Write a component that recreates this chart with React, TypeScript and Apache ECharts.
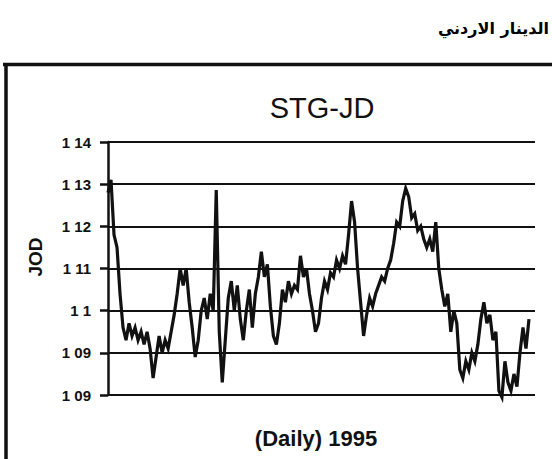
import React, { useEffect, useRef } from "react";
import * as echarts from "echarts";

const titleText = "STG-JD";
const yAxisName = "JOD";
const xAxisName = "(Daily) 1995";
const headerText = "الدينار الاردني";

const yTickLabels = ["1 09", "1 09", "1 1", "1 11", "1 12", "1 13", "1 14"];
const yMin = 1.08;
const yMax = 1.14;
const yStep = 0.01;

// daily STG-JD rate, 1995
const rates = [
  1.128, 1.131, 1.118, 1.115, 1.104, 1.096, 1.093, 1.097, 1.094, 1.096,
  1.093, 1.095, 1.092, 1.095, 1.091, 1.084, 1.089, 1.094, 1.090, 1.093,
  1.091, 1.095, 1.099, 1.104, 1.110, 1.106, 1.110, 1.102, 1.096, 1.089,
  1.093, 1.100, 1.103, 1.098, 1.104, 1.100, 1.1286, 1.095, 1.083, 1.093,
  1.103, 1.107, 1.100, 1.106, 1.098, 1.093, 1.100, 1.105, 1.096, 1.104,
  1.108, 1.114, 1.108, 1.111, 1.101, 1.094, 1.092, 1.097, 1.105, 1.102,
  1.107, 1.104, 1.106, 1.105, 1.113, 1.108, 1.110, 1.104, 1.100, 1.095,
  1.097, 1.103, 1.107, 1.105, 1.109, 1.108, 1.112, 1.110, 1.113, 1.111,
  1.118, 1.126, 1.121, 1.110, 1.102, 1.094, 1.099, 1.103, 1.101, 1.104,
  1.106, 1.108, 1.107, 1.110, 1.112, 1.116, 1.121, 1.120, 1.126, 1.129,
  1.127, 1.122, 1.123, 1.119, 1.120, 1.117, 1.115, 1.117, 1.114, 1.121,
  1.110, 1.105, 1.101, 1.104, 1.095, 1.100, 1.097, 1.086, 1.084, 1.088,
  1.086, 1.090, 1.088, 1.092, 1.098, 1.102, 1.097, 1.099, 1.093, 1.095,
  1.081, 1.0795, 1.088, 1.083, 1.081, 1.085, 1.082, 1.090, 1.096, 1.091,
  1.098,
];
const xMaxDays = 142;

export default function App() {
  const ref = useRef<HTMLDivElement>(null);
  useEffect(() => {
    if (!ref.current) return;
    const chart = echarts.init(ref.current, null, { renderer: "svg" });
    const ink = "#111";
    chart.setOption({
      animation: false,
      backgroundColor: "#fff",
      grid: { left: 108, right: 17, top: 142, bottom: 64, containLabel: false },
      xAxis: {
        type: "value",
        min: 0,
        max: xMaxDays,
        axisLine: { show: false },
        axisTick: { show: false },
        axisLabel: { show: false },
        splitLine: { show: false },
      },
      yAxis: {
        type: "value",
        min: yMin,
        max: yMax,
        interval: yStep,
        axisLine: { show: true, lineStyle: { color: ink, width: 2.5 } },
        axisTick: { show: true, length: 8, lineStyle: { color: ink, width: 2.5 } },
        axisLabel: {
          margin: 17,
          color: ink,
          fontFamily: "Liberation Sans, Arial, sans-serif",
          fontWeight: "bold",
          fontSize: 15,
          formatter: (v: number) => yTickLabels[Math.round((v - yMin) / yStep)] ?? "",
        },
        splitLine: { show: true, lineStyle: { color: ink, width: 2 } },
      },
      series: [
        {
          type: "line",
          data: rates.map((v, i) => [i, v]),
          symbol: "none",
          clip: false,
          lineStyle: { color: ink, width: 3.2, join: "miter" },
          z: 5,
        },
      ],
      graphic: [
        {
          type: "line",
          shape: { x1: 3, y1: 64.5, x2: 552, y2: 64.5 },
          style: { stroke: ink, lineWidth: 3.5 },
        },
        {
          type: "line",
          shape: { x1: 6, y1: 63, x2: 6, y2: 459 },
          style: { stroke: ink, lineWidth: 3.5 },
        },
        {
          type: "text",
          x: 549,
          y: 28,
          style: {
            text: headerText,
            font: "bold 16px 'DejaVu Sans', 'Noto Sans', sans-serif",
            fill: "#000",
            textAlign: "right",
            textVerticalAlign: "middle",
          },
        },
        {
          type: "text",
          x: 322,
          y: 108,
          style: {
            text: titleText,
            font: "29px 'Liberation Sans', Arial, sans-serif",
            fill: ink,
            textAlign: "center",
            textVerticalAlign: "middle",
          },
        },
        {
          type: "text",
          x: 35,
          y: 257,
          rotation: Math.PI / 2,
          style: {
            text: yAxisName,
            font: "bold 19px 'Liberation Sans', Arial, sans-serif",
            fill: ink,
            textAlign: "center",
            textVerticalAlign: "middle",
          },
        },
        {
          type: "text",
          x: 316,
          y: 438,
          style: {
            text: xAxisName,
            font: "bold 22px 'Liberation Sans', Arial, sans-serif",
            fill: ink,
            textAlign: "center",
            textVerticalAlign: "middle",
          },
        },
      ],
    });
    return () => chart.dispose();
  }, []);
  return (
    <div
      ref={ref}
      style={{ position: "fixed", left: 0, top: 0, width: 552, height: 459, background: "#fff" }}
    />
  );
}
